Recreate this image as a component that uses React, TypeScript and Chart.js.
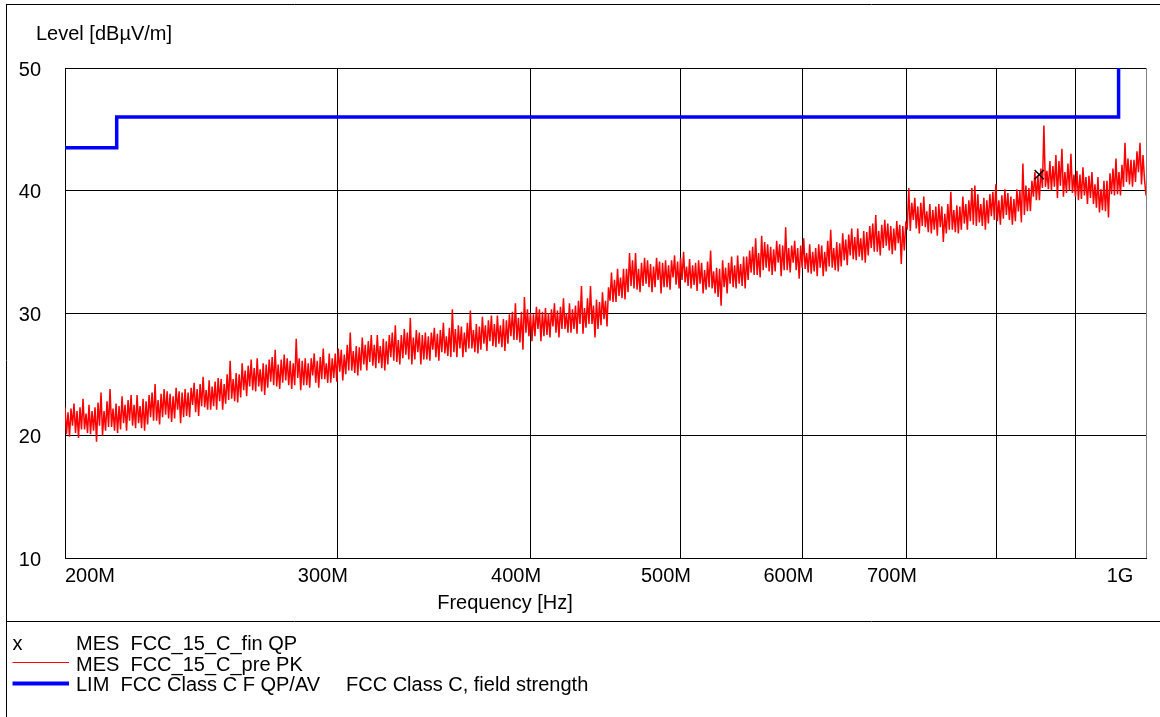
import React, { useEffect, useRef } from "react";
import { Chart, registerables } from "chart.js";

Chart.register(...registerables);

// Sweep of the peak pre-scan (MHz), log-spaced grid from start to stop
const FREQ_START = 200;
const FREQ_STOP = 1000;

// Peak (PK) pre-scan levels in dBµV/m
const PK_LEVELS = [
  22.3, 20.1, 21.9, 19.9, 22.2, 20.8, 22.6, 20.2, 22.0, 19.8, 22.3, 20.5, 23.0, 20.5, 21.8, 20.2, 22.5, 20.1, 22.0, 20.4,
  22.3, 19.5, 22.7, 20.8, 23.5, 20.0, 22.0, 20.4, 22.8, 20.7, 23.8, 20.7, 22.2, 20.4, 22.6, 20.2, 22.4, 20.5, 23.2, 21.0,
  22.5, 20.4, 22.9, 21.2, 23.3, 20.8, 22.5, 20.6, 23.3, 21.0, 22.4, 20.6, 23.0, 20.4, 22.8, 20.9, 23.3, 21.5, 23.5, 21.2,
  24.2, 21.2, 22.9, 20.9, 23.4, 21.5, 23.8, 21.7, 23.6, 21.4, 23.4, 21.1, 23.2, 21.4, 23.9, 22.1, 23.6, 21.0, 23.5, 21.5,
  23.8, 21.6, 23.5, 21.5, 23.9, 22.5, 24.3, 21.9, 23.8, 21.6, 24.2, 22.4, 24.8, 22.3, 23.7, 22.1, 24.5, 22.1, 24.0, 22.4,
  24.4, 22.1, 24.7, 22.8, 24.6, 22.1, 24.2, 22.6, 25.0, 22.9, 26.1, 23.0, 24.6, 22.8, 25.1, 22.7, 25.0, 23.1, 25.9, 23.7,
  25.3, 23.2, 25.7, 24.0, 26.2, 23.7, 25.5, 23.6, 26.3, 24.0, 25.4, 23.6, 25.9, 23.3, 25.8, 23.9, 26.2, 24.4, 26.4, 24.1,
  27.0, 24.0, 25.8, 23.8, 26.2, 24.3, 26.6, 24.5, 26.3, 24.1, 26.1, 23.8, 25.9, 24.1, 27.9, 24.7, 26.3, 23.7, 26.1, 24.1,
  26.3, 24.1, 25.9, 23.9, 26.3, 24.9, 26.7, 24.3, 26.1, 23.9, 26.4, 24.6, 27.1, 24.6, 25.9, 24.3, 26.7, 24.3, 26.3, 24.7,
  26.7, 24.4, 27.1, 25.2, 27.0, 24.5, 26.6, 25.0, 27.4, 25.3, 28.4, 25.3, 26.9, 25.1, 27.3, 24.9, 27.2, 25.3, 28.0, 25.8,
  27.4, 25.3, 27.7, 26.0, 28.2, 25.7, 27.4, 25.5, 28.2, 25.9, 27.3, 25.5, 27.9, 25.3, 27.7, 25.8, 28.2, 26.4, 28.4, 26.1,
  29.0, 26.0, 27.8, 25.8, 28.2, 26.3, 28.7, 26.6, 28.4, 26.2, 29.6, 25.8, 28.0, 26.2, 28.6, 26.8, 28.4, 25.8, 28.2, 26.2,
  28.4, 26.2, 28.1, 26.1, 28.4, 27.0, 28.8, 26.4, 28.3, 26.1, 28.6, 26.8, 29.2, 26.7, 28.1, 26.5, 28.8, 26.4, 30.3, 26.8,
  28.7, 26.4, 29.0, 27.1, 28.9, 26.4, 28.4, 26.8, 29.2, 27.1, 30.2, 27.1, 28.6, 26.8, 29.1, 26.7, 28.9, 27.0, 29.7, 27.5,
  29.0, 26.9, 29.4, 27.7, 29.8, 27.3, 29.1, 27.2, 29.8, 27.5, 29.0, 27.2, 29.5, 26.9, 29.4, 27.5, 29.9, 28.1, 30.1, 27.8,
  30.8, 27.8, 29.6, 27.6, 30.1, 27.0, 31.3, 28.4, 30.3, 28.1, 30.0, 27.7, 29.9, 28.1, 30.5, 28.7, 30.3, 27.7, 30.1, 28.1,
  30.4, 28.2, 30.0, 28.0, 30.3, 28.9, 30.8, 28.4, 30.2, 28.0, 30.5, 28.7, 31.2, 28.7, 30.0, 28.4, 30.8, 28.4, 30.3, 28.7,
  30.6, 28.3, 31.0, 29.1, 32.2, 28.3, 30.4, 28.8, 31.2, 29.1, 32.2, 29.1, 30.6, 28.0, 31.1, 28.7, 30.9, 29.0, 31.7, 29.5,
  31.0, 28.9, 32.1, 31.0, 33.3, 30.9, 32.7, 30.9, 33.6, 31.4, 32.9, 31.2, 33.6, 31.1, 33.6, 31.7, 34.9, 32.2, 34.3, 32.0,
  34.9, 31.9, 33.6, 31.7, 34.1, 32.2, 34.5, 32.4, 34.3, 32.1, 34.0, 31.7, 33.8, 32.1, 34.5, 32.7, 34.2, 31.6, 34.1, 32.1,
  34.3, 32.1, 33.9, 31.9, 34.3, 32.9, 34.7, 32.3, 34.2, 32.0, 34.5, 32.7, 35.0, 32.5, 33.8, 32.2, 34.4, 32.0, 33.9, 32.3,
  34.1, 31.8, 34.3, 32.4, 34.1, 31.6, 33.5, 31.9, 34.2, 32.1, 35.1, 32.0, 33.4, 31.6, 33.7, 31.3, 33.6, 30.6, 34.3, 32.1,
  33.7, 31.6, 34.1, 32.4, 34.6, 32.1, 33.9, 32.0, 34.7, 32.4, 34.0, 32.2, 34.6, 32.0, 34.6, 32.7, 35.1, 33.3, 35.4, 33.1,
  36.1, 33.1, 34.9, 32.9, 36.3, 33.5, 35.8, 33.7, 35.6, 33.4, 35.4, 33.1, 35.2, 33.4, 35.9, 34.1, 35.6, 33.0, 35.5, 33.5,
  37.0, 33.5, 35.3, 33.3, 35.5, 34.1, 35.9, 33.5, 35.3, 32.8, 35.5, 33.7, 36.1, 33.6, 34.9, 33.3, 35.6, 33.2, 35.0, 33.4,
  35.3, 33.0, 35.6, 33.7, 35.5, 33.0, 35.0, 33.4, 35.9, 33.8, 36.8, 33.7, 35.3, 33.5, 35.8, 33.4, 35.7, 33.8, 36.5, 34.3,
  36.0, 33.9, 36.4, 34.7, 36.9, 34.4, 36.2, 34.3, 36.9, 34.6, 36.1, 34.3, 36.7, 34.1, 36.6, 34.7, 37.1, 35.3, 37.3, 35.0,
  38.0, 35.0, 36.7, 34.7, 37.2, 35.3, 37.6, 35.5, 37.3, 35.1, 37.1, 34.8, 36.9, 35.1, 37.5, 35.7, 37.2, 34.0, 37.1, 35.1,
  37.3, 37.0, 40.2, 36.7, 39.0, 37.6, 39.4, 36.9, 38.7, 36.5, 39.0, 37.1, 39.5, 37.0, 38.3, 36.6, 38.9, 36.5, 38.4, 36.8,
  38.7, 36.3, 38.9, 37.0, 38.7, 35.8, 38.1, 36.5, 38.9, 36.8, 39.9, 36.8, 38.4, 36.6, 38.8, 36.5, 38.7, 36.8, 39.5, 37.3,
  38.9, 36.8, 39.2, 37.5, 40.2, 37.2, 40.4, 37.1, 39.7, 37.4, 38.9, 37.1, 39.4, 36.8, 39.2, 37.3, 39.7, 37.9, 39.9, 37.6,
  40.5, 37.5, 39.2, 37.2, 39.6, 37.7, 40.1, 38.0, 39.8, 37.6, 39.5, 37.2, 39.3, 37.5, 40.1, 38.3, 40.0, 37.4, 42.2, 38.0,
  40.4, 38.3, 40.2, 38.3, 40.8, 39.5, 41.5, 39.2, 41.2, 39.2, 41.8, 40.2, 45.3, 40.3, 41.6, 40.1, 42.4, 40.0, 42.0, 40.3,
  42.9, 39.4, 42.4, 40.4, 43.4, 39.5, 41.5, 39.8, 42.2, 40.0, 43.0, 39.8, 41.3, 39.5, 41.6, 39.2, 41.3, 39.3, 41.9, 39.6,
  41.1, 38.9, 41.2, 39.4, 41.5, 38.9, 40.5, 38.6, 41.1, 38.2, 40.1, 38.4, 40.8, 38.3, 40.8, 37.8, 41.4, 39.7, 41.8, 39.6,
  42.6, 39.7, 41.5, 39.6, 42.1, 40.3, 43.9, 40.7, 42.6, 40.5, 42.5, 40.3, 42.5, 40.7, 43.2, 41.5, 43.9, 40.5, 42.9, 40.9,
  39.6,
];

// Final QP measurement
const QP_FREQ = [853];
const QP_LEVEL = [41.3];

// FCC Class C limit line
const LIMIT_FREQ = [200, 216, 216, 960, 960];
const LIMIT_LEVEL = [43.5, 43.5, 46, 46, 54];

// Axes
const X_GRID = [200, 300, 400, 500, 600, 700, 800, 900, 1000];
const X_TICK_VALUES = [200, 300, 400, 500, 600, 700, 1000];
const X_TICK_LABELS = ["200M", "300M", "400M", "500M", "600M", "700M", "1G"];
const Y_TICKS = [10, 20, 30, 40, 50];
const Y_MIN = 10;
const Y_MAX = 50;

const Y_TITLE = "Level [dBµV/m]";
const X_TITLE = "Frequency [Hz]";
const LEGEND_TEXT = [
  "MES  FCC_15_C_fin QP",
  "MES  FCC_15_C_pre PK",
  "LIM  FCC Class C F QP/AV",
];
const LEGEND_EXTRA = "FCC Class C, field strength";

const FONT = '20px "Liberation Sans", Arial, Helvetica, sans-serif';

const textPlugin = {
  id: "emcText",
  afterDraw(chart: any) {
    const ctx = chart.ctx as CanvasRenderingContext2D;
    const xs = chart.scales.x;
    const ys = chart.scales.y;
    ctx.save();
    ctx.fillStyle = "#000";
    ctx.font = FONT;
    ctx.textBaseline = "middle";

    ctx.textAlign = "left";
    ctx.fillText(Y_TITLE, 36, 34);

    ctx.textAlign = "right";
    Y_TICKS.forEach((v) => ctx.fillText(String(v), 41, ys.getPixelForValue(v) + 2));

    const last = X_TICK_VALUES.length - 1;
    X_TICK_VALUES.forEach((v, i) => {
      const px = xs.getPixelForValue(v);
      if (i === 0) {
        ctx.textAlign = "left";
        ctx.fillText(X_TICK_LABELS[i], px, 576);
      } else if (i === last) {
        ctx.textAlign = "center";
        ctx.fillText(X_TICK_LABELS[i], px - 26, 576);
      } else {
        ctx.textAlign = "center";
        ctx.fillText(X_TICK_LABELS[i], px - 14.5, 576);
      }
    });

    ctx.textAlign = "center";
    ctx.fillText(X_TITLE, 505, 603);

    // outer frame and separator
    ctx.strokeStyle = "#000";
    ctx.lineWidth = 1;
    ctx.beginPath();
    ctx.moveTo(6, 4.5);
    ctx.lineTo(1160, 4.5);
    ctx.moveTo(6.5, 4);
    ctx.lineTo(6.5, 717);
    ctx.moveTo(6, 621.5);
    ctx.lineTo(1160, 621.5);
    ctx.stroke();

    // legend
    ctx.textAlign = "left";
    ctx.fillText("x", 12.5, 644);
    ctx.fillText(LEGEND_TEXT[0], 76, 644);
    ctx.fillText(LEGEND_TEXT[1], 76, 665);
    ctx.fillText(LEGEND_TEXT[2], 76, 685);
    ctx.fillText(LEGEND_EXTRA, 346, 685);

    ctx.strokeStyle = "#ff0000";
    ctx.lineWidth = 1;
    ctx.beginPath();
    ctx.moveTo(12.5, 662.5);
    ctx.lineTo(69, 662.5);
    ctx.stroke();

    ctx.strokeStyle = "#0000ff";
    ctx.lineWidth = 4;
    ctx.beginPath();
    ctx.moveTo(12.5, 683.5);
    ctx.lineTo(69, 683.5);
    ctx.stroke();

    ctx.restore();
  },
};

export default function App() {
  const canvasRef = useRef<HTMLCanvasElement | null>(null);

  useEffect(() => {
    if (!canvasRef.current) return;
    const n = PK_LEVELS.length;
    const pkData = PK_LEVELS.map((y, i) => ({
      x: FREQ_START * Math.pow(FREQ_STOP / FREQ_START, i / (n - 1)),
      y,
    }));
    const limData = LIMIT_FREQ.map((x, i) => ({ x, y: LIMIT_LEVEL[i] }));
    const qpData = QP_FREQ.map((x, i) => ({ x, y: QP_LEVEL[i] }));

    const chart = new Chart(canvasRef.current, {
      type: "line",
      data: {
        datasets: [
          {
            label: LEGEND_TEXT[0],
            data: qpData,
            showLine: false,
            pointStyle: "crossRot",
            pointRadius: 6.5,
            borderColor: "#000",
            backgroundColor: "#000",
            borderWidth: 1.4,
          },
          {
            label: LEGEND_TEXT[2],
            data: limData,
            borderColor: "#0000ff",
            borderWidth: 3.5,
            pointRadius: 0,
            tension: 0,
            fill: false,
          },
          {
            label: LEGEND_TEXT[1],
            data: pkData,
            borderColor: "#ff0000",
            borderWidth: 1.5,
            pointRadius: 0,
            tension: 0,
            fill: false,
          },
        ],
      },
      options: {
        responsive: false,
        maintainAspectRatio: false,
        devicePixelRatio: 1,
        animation: false,
        events: [],
        layout: { padding: { left: 65, top: 68, right: 14, bottom: 159 } },
        plugins: { legend: { display: false }, tooltip: { enabled: false } },
        scales: {
          x: {
            type: "logarithmic",
            min: FREQ_START,
            max: FREQ_STOP,
            afterBuildTicks: (scale: any) => {
              scale.ticks = X_GRID.map((v) => ({ value: v }));
            },
            afterFit: (scale: any) => {
              scale.height = 0;
            },
            ticks: { display: false },
            grid: {
              drawTicks: false,
              color: (c: any) => (c.tick && c.tick.value === FREQ_STOP ? "#808080" : "#000"),
              lineWidth: 1,
            },
            border: { display: true, color: "#000", width: 1 },
          },
          y: {
            type: "linear",
            min: Y_MIN,
            max: Y_MAX,
            afterBuildTicks: (scale: any) => {
              scale.ticks = Y_TICKS.map((v) => ({ value: v }));
            },
            afterFit: (scale: any) => {
              scale.width = 0;
            },
            ticks: { display: false },
            grid: { drawTicks: false, color: "#000", lineWidth: 1 },
            border: { display: true, color: "#000", width: 1 },
          },
        },
      },
      plugins: [textPlugin],
    } as any);

    return () => chart.destroy();
  }, []);

  return (
    <div
      style={{
        position: "absolute",
        left: 0,
        top: 0,
        width: 1160,
        height: 717,
        background: "#fff",
      }}
    >
      <canvas
        ref={canvasRef}
        width={1160}
        height={717}
        style={{ display: "block", width: 1160, height: 717 }}
      />
    </div>
  );
}
